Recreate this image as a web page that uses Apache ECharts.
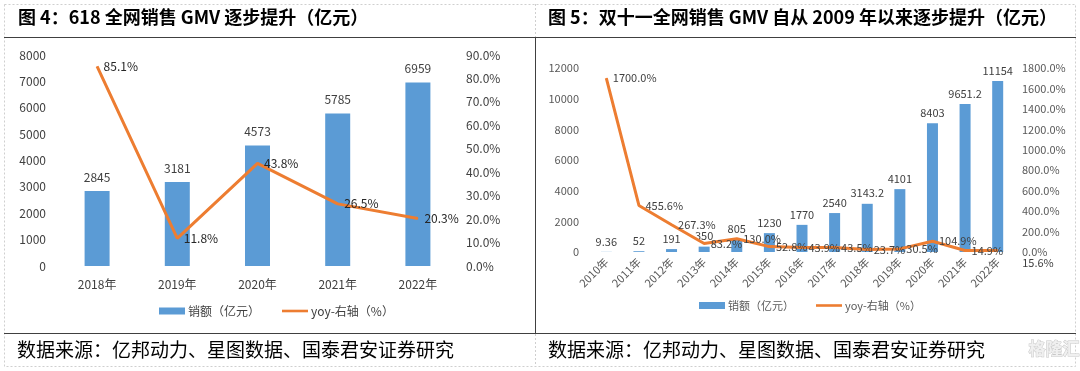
<!DOCTYPE html>
<html><head><meta charset="utf-8">
<script src="https://cdn.jsdelivr.net/npm/echarts@6/dist/echarts.min.js"></script>
<style>html,body{margin:0;padding:0;background:#fff}#c{width:1080px;height:371px}</style>
</head><body><div id="c"></div>
<script>
// ---- data: 618 chart ----
const years618 = ['2018年','2019年','2020年','2021年','2022年'];
const gmv618 = [2845, 3181, 4573, 5785, 6959];
const yoy618 = [85.1, 11.8, 43.8, 26.5, 20.3];
// ---- data: Double 11 chart ----
const years1111 = ['2010年','2011年','2012年','2013年','2014年','2015年','2016年','2017年','2018年','2019年','2020年','2021年','2022年'];
const gmv1111 = [9.36, 52, 191, 350, 805, 1230, 1770, 2540, 3143.2, 4101, 8403, 9651.2, 11154];
const yoy1111 = [1700.0, 455.6, 267.3, 83.2, 130.0, 52.8, 43.9, 43.5, 23.7, 30.5, 104.9, 14.9, 15.6];
// ---- texts ----
const title4 = '图 4：618 全网销售 GMV 逐步提升（亿元）';
const title5 = '图 5：双十一全网销售 GMV 自从 2009 年以来逐步提升（亿元）';
const sourceText = '数据来源：亿邦动力、星图数据、国泰君安证券研究';
const barName = '销额（亿元）';
const lineName = 'yoy-右轴（%）';

const FF = '"Noto Sans CJK SC", "Noto Sans", sans-serif';
const BLUE = '#5B9BD5', ORANGE = '#ED7D31';
const pct = v => (typeof v === 'object' ? v.value : v).toFixed(1) + '%';
const plain = v => String(v);
const lineIcon = 'path://M0,0H30V3H0Z';

const chart = echarts.init(document.getElementById('c'), null, {renderer: 'canvas'});
chart.setOption({
  animation: false,
  textStyle: {fontFamily: FF},
  grid: [
    {left: 57, right: 1080 - 458, top: 55, bottom: 371 - 266, containLabel: false},
    {left: 590, right: 1080 - 1014, top: 68, bottom: 371 - 252, containLabel: false}
  ],
  legend: [
    {left: 154, top: 300, itemWidth: 26, itemHeight: 7, itemGap: 22, selectedMode: false,
     textStyle: {fontSize: 12, color: '#404040', fontFamily: FF, padding: [0,0,0,-2]},
     data: [{name: barName, icon: 'rect'}, {name: lineName, icon: lineIcon}]},
    {left: 694, top: 295, itemWidth: 26, itemHeight: 7, itemGap: 22, selectedMode: false,
     textStyle: {fontSize: 11, color: '#595959', fontFamily: FF, padding: [0,0,0,-2]},
     data: [{name: barName, icon: 'rect'}, {name: lineName, icon: lineIcon}]}
  ],
  xAxis: [
    {type: 'category', gridIndex: 0, data: years618, axisTick: {show: false},
     axisLine: {show: false}, axisLabel: {color: '#404040', fontSize: 12, margin: 12}},
    {type: 'category', gridIndex: 1, data: years1111, axisTick: {show: false},
     axisLine: {show: false}, axisLabel: {color: '#595959', fontSize: 11, rotate: 45, margin: 8, interval: 0}}
  ],
  yAxis: [
    {type: 'value', gridIndex: 0, min: 0, max: 8000, interval: 1000, splitLine: {show: false},
     axisLabel: {color: '#404040', fontSize: 12, margin: 11, formatter: plain}},
    {type: 'value', gridIndex: 0, min: 0, max: 90, interval: 10, position: 'right', splitLine: {show: false},
     axisLabel: {color: '#404040', fontSize: 12, margin: 8, formatter: v => v.toFixed(1) + '%'}},
    {type: 'value', gridIndex: 1, min: 0, max: 12000, interval: 2000, splitLine: {show: false},
     axisLabel: {color: '#595959', fontSize: 11, margin: 11, formatter: plain}},
    {type: 'value', gridIndex: 1, min: 0, max: 1800, interval: 200, position: 'right', splitLine: {show: false},
     axisLabel: {color: '#595959', fontSize: 11, margin: 8, formatter: v => v.toFixed(1) + '%'}}
  ],
  series: [
    {name: barName, type: 'bar', xAxisIndex: 0, yAxisIndex: 0, data: gmv618, barWidth: 25,
     itemStyle: {color: BLUE},
     label: {show: true, position: 'top', distance: 8, color: '#404040', fontSize: 12, formatter: p => String(p.value)}},
    {name: lineName, type: 'line', xAxisIndex: 0, yAxisIndex: 1, data: yoy618,
     symbol: 'circle', symbolSize: 1, itemStyle: {color: ORANGE},
     lineStyle: {color: ORANGE, width: 3},
     label: {show: true, position: 'right', distance: 6, color: '#262626', fontSize: 12, formatter: p => pct(p.value)}},
    {name: barName, type: 'bar', xAxisIndex: 1, yAxisIndex: 2, data: gmv1111, barWidth: 11,
     itemStyle: {color: BLUE},
     label: {show: true, position: 'top', distance: 5, color: '#404040', fontSize: 11, formatter: p => String(p.value)}},
    {name: lineName, type: 'line', xAxisIndex: 1, yAxisIndex: 3,
     data: yoy1111.map((v, i) => i === yoy1111.length - 1 ? {value: v, label: {offset: [18, 12]}} : v),
     symbol: 'circle', symbolSize: 1, itemStyle: {color: ORANGE},
     lineStyle: {color: ORANGE, width: 3},
     label: {show: true, position: 'right', distance: 6, color: '#404040', fontSize: 11, formatter: p => pct(p.value)}}
  ],
  graphic: [
    {type: 'rect', shape: {x: 4.5, y: 4.5, width: 1071, height: 362}, silent: true,
     style: {fill: null, stroke: '#cfcfcf', lineWidth: 1, lineDash: [2, 2]}},
    {type: 'line', shape: {x1: 4, y1: 37.5, x2: 1076, y2: 37.5}, style: {stroke: '#404040', lineWidth: 1}},
    {type: 'line', shape: {x1: 4, y1: 333.5, x2: 1076, y2: 333.5}, style: {stroke: '#404040', lineWidth: 1}},
    {type: 'line', shape: {x1: 535.5, y1: 37, x2: 535.5, y2: 333}, style: {stroke: '#404040', lineWidth: 1}},
    {type: 'line', shape: {x1: 535.5, y1: 4, x2: 535.5, y2: 37}, style: {stroke: '#cfcfcf', lineWidth: 1, lineDash: [2, 2]}},
    {type: 'line', shape: {x1: 535.5, y1: 334, x2: 535.5, y2: 367}, style: {stroke: '#cfcfcf', lineWidth: 1, lineDash: [2, 2]}},
    {type: 'text', left: 18, top: 8, style: {text: title4, font: 'bold 18px ' + FF, fill: '#000'}},
    {type: 'text', left: 548, top: 8, style: {text: title5, font: 'bold 18px ' + FF, fill: '#000'}},
    {type: 'text', left: 17, top: 340, style: {text: sourceText, font: '19px ' + FF, fill: '#000'}},
    {type: 'text', left: 548, top: 340, style: {text: sourceText, font: '19px ' + FF, fill: '#000'}},
    {type: 'text', left: 1028, top: 340, style: {text: '格隆汇', font: 'bold 17px ' + FF, fill: '#f0f0f0', stroke: '#c8c8c8', lineWidth: 1}}
  ]
});
</script>
</body></html>
